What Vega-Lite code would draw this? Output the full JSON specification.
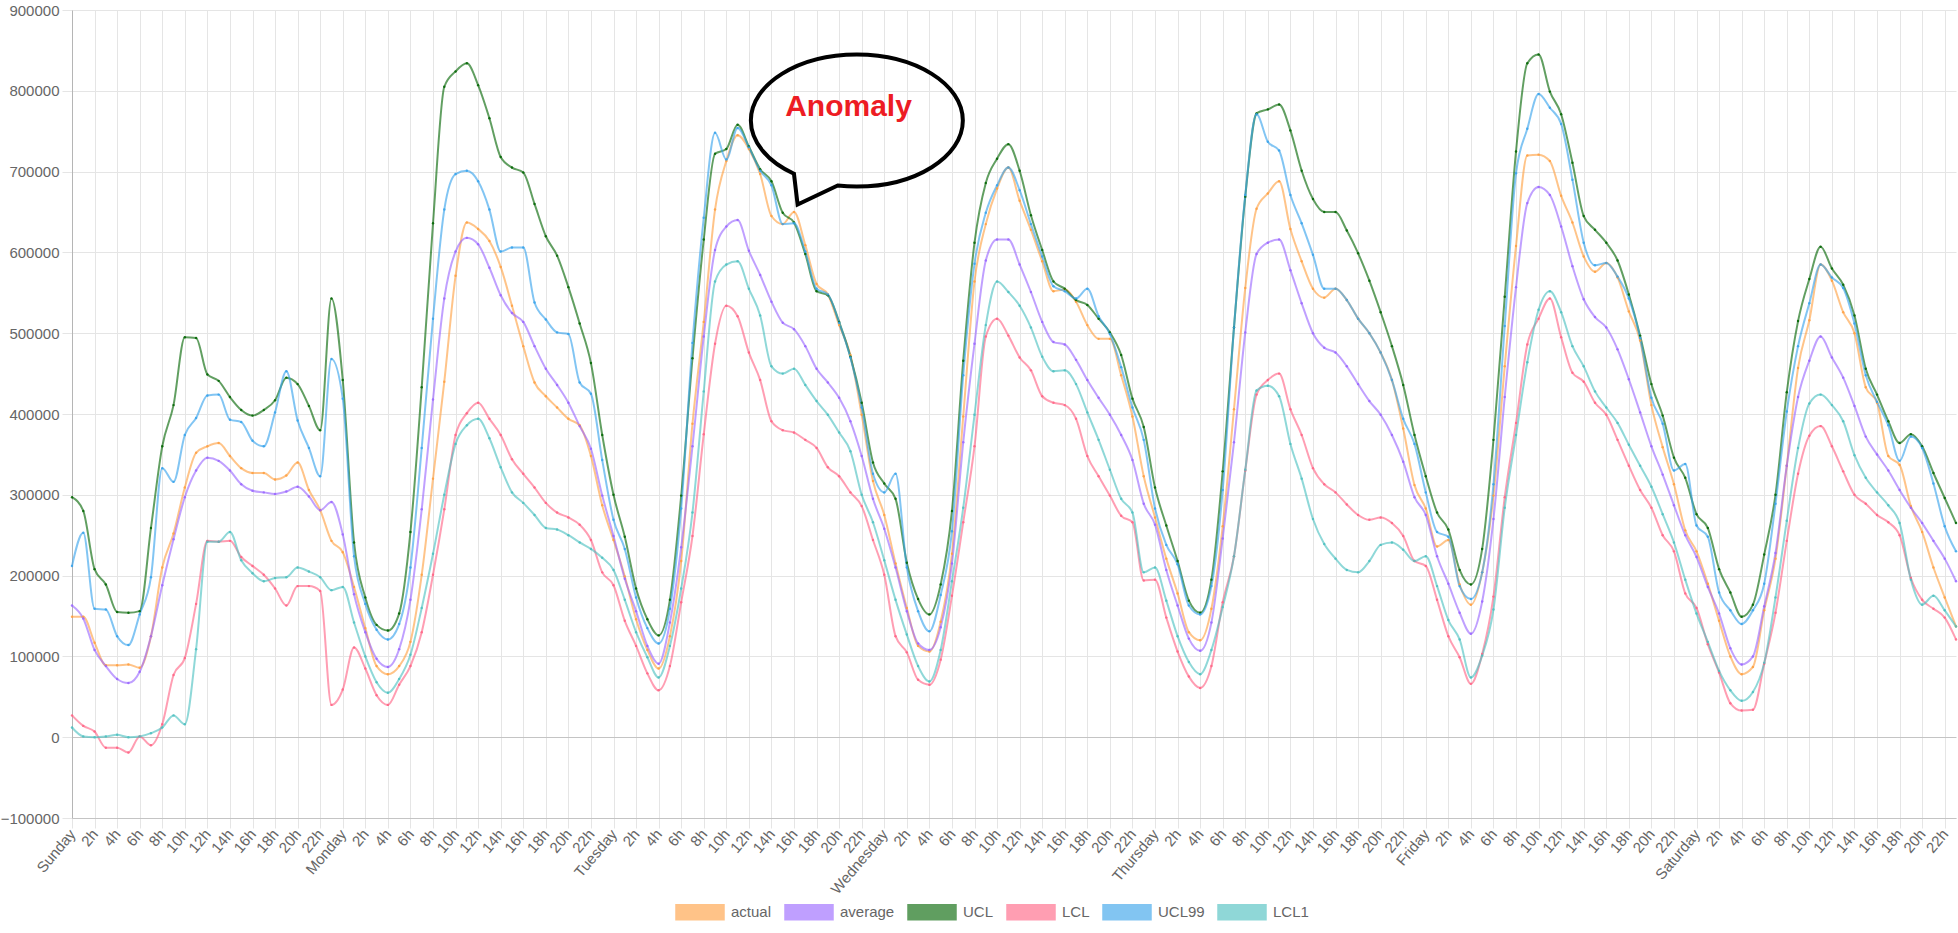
{
  "$schema": "https://vega.github.io/schema/vega-lite/v6.json",
  "width": 1884,
  "height": 808,
  "autosize": {"type": "none"},
  "padding": {"left": 72, "top": 10, "right": 2, "bottom": 115},
  "background": "white",
  "config": {
    "view": {"stroke": null},
    "font": "Liberation Sans",
    "axis": {"labelFont": "Liberation Sans", "labelColor": "#666", "labelFontSize": 15}
  },
  "data": {"values": [
    {"h":0,"actual":149000,"average":163000,"UCL":297000,"LCL":27000,"UCL99":212000,"LCL1":12000},
    {"h":1,"actual":149000,"average":147000,"UCL":280000,"LCL":14000,"UCL99":253000,"LCL1":1000},
    {"h":2,"actual":117000,"average":108000,"UCL":208000,"LCL":7000,"UCL99":159000,"LCL1":0},
    {"h":3,"actual":89000,"average":88000,"UCL":189000,"LCL":-13000,"UCL99":158000,"LCL1":1000},
    {"h":4,"actual":89000,"average":72000,"UCL":155000,"LCL":-13000,"UCL99":125000,"LCL1":3000},
    {"h":5,"actual":90000,"average":67000,"UCL":154000,"LCL":-19000,"UCL99":114000,"LCL1":0},
    {"h":6,"actual":86000,"average":81000,"UCL":156000,"LCL":1000,"UCL99":152000,"LCL1":1000},
    {"h":7,"actual":125000,"average":125000,"UCL":259000,"LCL":-10000,"UCL99":198000,"LCL1":5000},
    {"h":8,"actual":210000,"average":188000,"UCL":360000,"LCL":16000,"UCL99":333000,"LCL1":12000},
    {"h":9,"actual":252000,"average":245000,"UCL":411000,"LCL":77000,"UCL99":316000,"LCL1":27000},
    {"h":10,"actual":309000,"average":297000,"UCL":495000,"LCL":98000,"UCL99":374000,"LCL1":16000},
    {"h":11,"actual":352000,"average":330000,"UCL":494000,"LCL":165000,"UCL99":395000,"LCL1":109000},
    {"h":12,"actual":360000,"average":346000,"UCL":449000,"LCL":243000,"UCL99":423000,"LCL1":242000},
    {"h":13,"actual":364000,"average":342000,"UCL":441000,"LCL":242000,"UCL99":424000,"LCL1":242000},
    {"h":14,"actual":348000,"average":330000,"UCL":421000,"LCL":243000,"UCL99":393000,"LCL1":254000},
    {"h":15,"actual":333000,"average":313000,"UCL":405000,"LCL":223000,"UCL99":390000,"LCL1":219000},
    {"h":16,"actual":327000,"average":305000,"UCL":398000,"LCL":212000,"UCL99":367000,"LCL1":203000},
    {"h":17,"actual":327000,"average":303000,"UCL":405000,"LCL":201000,"UCL99":360000,"LCL1":193000},
    {"h":18,"actual":319000,"average":301000,"UCL":417000,"LCL":184000,"UCL99":402000,"LCL1":197000},
    {"h":19,"actual":324000,"average":304000,"UCL":445000,"LCL":163000,"UCL99":453000,"LCL1":198000},
    {"h":20,"actual":340000,"average":310000,"UCL":437000,"LCL":187000,"UCL99":392000,"LCL1":210000},
    {"h":21,"actual":306000,"average":298000,"UCL":410000,"LCL":187000,"UCL99":358000,"LCL1":205000},
    {"h":22,"actual":281000,"average":281000,"UCL":380000,"LCL":181000,"UCL99":323000,"LCL1":198000},
    {"h":23,"actual":243000,"average":291000,"UCL":543000,"LCL":40000,"UCL99":468000,"LCL1":182000},
    {"h":24,"actual":229000,"average":251000,"UCL":442000,"LCL":59000,"UCL99":419000,"LCL1":186000},
    {"h":25,"actual":186000,"average":177000,"UCL":241000,"LCL":111000,"UCL99":224000,"LCL1":142000},
    {"h":26,"actual":135000,"average":130000,"UCL":173000,"LCL":85000,"UCL99":165000,"LCL1":100000},
    {"h":27,"actual":88000,"average":97000,"UCL":139000,"LCL":52000,"UCL99":133000,"LCL1":68000},
    {"h":28,"actual":78000,"average":87000,"UCL":132000,"LCL":40000,"UCL99":121000,"LCL1":55000},
    {"h":29,"actual":88000,"average":109000,"UCL":153000,"LCL":65000,"UCL99":140000,"LCL1":72000},
    {"h":30,"actual":118000,"average":170000,"UCL":254000,"LCL":88000,"UCL99":210000,"LCL1":102000},
    {"h":31,"actual":201000,"average":282000,"UCL":433000,"LCL":130000,"UCL99":358000,"LCL1":160000},
    {"h":32,"actual":320000,"average":418000,"UCL":636000,"LCL":201000,"UCL99":518000,"LCL1":227000},
    {"h":33,"actual":440000,"average":543000,"UCL":805000,"LCL":282000,"UCL99":653000,"LCL1":300000},
    {"h":34,"actual":571000,"average":601000,"UCL":824000,"LCL":374000,"UCL99":697000,"LCL1":363000},
    {"h":35,"actual":637000,"average":618000,"UCL":834000,"LCL":401000,"UCL99":701000,"LCL1":386000},
    {"h":36,"actual":629000,"average":610000,"UCL":807000,"LCL":414000,"UCL99":688000,"LCL1":394000},
    {"h":37,"actual":614000,"average":581000,"UCL":766000,"LCL":394000,"UCL99":653000,"LCL1":370000},
    {"h":38,"actual":582000,"average":547000,"UCL":718000,"LCL":374000,"UCL99":601000,"LCL1":334000},
    {"h":39,"actual":534000,"average":525000,"UCL":705000,"LCL":344000,"UCL99":606000,"LCL1":303000},
    {"h":40,"actual":484000,"average":514000,"UCL":699000,"LCL":326000,"UCL99":606000,"LCL1":290000},
    {"h":41,"actual":439000,"average":484000,"UCL":660000,"LCL":309000,"UCL99":538000,"LCL1":275000},
    {"h":42,"actual":422000,"average":456000,"UCL":620000,"LCL":290000,"UCL99":517000,"LCL1":259000},
    {"h":43,"actual":408000,"average":436000,"UCL":596000,"LCL":278000,"UCL99":501000,"LCL1":257000},
    {"h":44,"actual":394000,"average":414000,"UCL":557000,"LCL":272000,"UCL99":499000,"LCL1":250000},
    {"h":45,"actual":386000,"average":385000,"UCL":512000,"LCL":263000,"UCL99":439000,"LCL1":241000},
    {"h":46,"actual":348000,"average":357000,"UCL":463000,"LCL":244000,"UCL99":425000,"LCL1":233000},
    {"h":47,"actual":287000,"average":299000,"UCL":374000,"LCL":204000,"UCL99":343000,"LCL1":222000},
    {"h":48,"actual":244000,"average":249000,"UCL":300000,"LCL":188000,"UCL99":269000,"LCL1":207000},
    {"h":49,"actual":199000,"average":196000,"UCL":248000,"LCL":144000,"UCL99":233000,"LCL1":170000},
    {"h":50,"actual":146000,"average":156000,"UCL":184000,"LCL":113000,"UCL99":173000,"LCL1":130000},
    {"h":51,"actual":108000,"average":113000,"UCL":146000,"LCL":79000,"UCL99":135000,"LCL1":99000},
    {"h":52,"actual":85000,"average":91000,"UCL":126000,"LCL":58000,"UCL99":116000,"LCL1":74000},
    {"h":53,"actual":125000,"average":142000,"UCL":170000,"LCL":88000,"UCL99":159000,"LCL1":113000},
    {"h":54,"actual":218000,"average":235000,"UCL":299000,"LCL":167000,"UCL99":283000,"LCL1":184000},
    {"h":55,"actual":388000,"average":360000,"UCL":469000,"LCL":249000,"UCL99":488000,"LCL1":278000},
    {"h":56,"actual":514000,"average":496000,"UCL":616000,"LCL":375000,"UCL99":643000,"LCL1":428000},
    {"h":57,"actual":653000,"average":603000,"UCL":722000,"LCL":487000,"UCL99":748000,"LCL1":564000},
    {"h":58,"actual":713000,"average":632000,"UCL":728000,"LCL":534000,"UCL99":715000,"LCL1":585000},
    {"h":59,"actual":745000,"average":640000,"UCL":758000,"LCL":521000,"UCL99":754000,"LCL1":589000},
    {"h":60,"actual":728000,"average":602000,"UCL":731000,"LCL":476000,"UCL99":730000,"LCL1":555000},
    {"h":61,"actual":697000,"average":572000,"UCL":703000,"LCL":442000,"UCL99":701000,"LCL1":522000},
    {"h":62,"actual":645000,"average":539000,"UCL":688000,"LCL":391000,"UCL99":683000,"LCL1":459000},
    {"h":63,"actual":635000,"average":513000,"UCL":649000,"LCL":380000,"UCL99":635000,"LCL1":450000},
    {"h":64,"actual":650000,"average":505000,"UCL":637000,"LCL":377000,"UCL99":636000,"LCL1":456000},
    {"h":65,"actual":609000,"average":484000,"UCL":598000,"LCL":368000,"UCL99":601000,"LCL1":436000},
    {"h":66,"actual":561000,"average":456000,"UCL":552000,"LCL":358000,"UCL99":555000,"LCL1":416000},
    {"h":67,"actual":548000,"average":439000,"UCL":547000,"LCL":334000,"UCL99":548000,"LCL1":399000},
    {"h":68,"actual":510000,"average":420000,"UCL":514000,"LCL":323000,"UCL99":513000,"LCL1":377000},
    {"h":69,"actual":473000,"average":391000,"UCL":471000,"LCL":303000,"UCL99":470000,"LCL1":354000},
    {"h":70,"actual":399000,"average":348000,"UCL":414000,"LCL":286000,"UCL99":408000,"LCL1":300000},
    {"h":71,"actual":317000,"average":295000,"UCL":340000,"LCL":244000,"UCL99":326000,"LCL1":266000},
    {"h":72,"actual":275000,"average":258000,"UCL":314000,"LCL":201000,"UCL99":303000,"LCL1":219000},
    {"h":73,"actual":215000,"average":210000,"UCL":295000,"LCL":125000,"UCL99":326000,"LCL1":170000},
    {"h":74,"actual":160000,"average":156000,"UCL":216000,"LCL":105000,"UCL99":210000,"LCL1":127000},
    {"h":75,"actual":113000,"average":116000,"UCL":171000,"LCL":71000,"UCL99":156000,"LCL1":88000},
    {"h":76,"actual":106000,"average":108000,"UCL":152000,"LCL":65000,"UCL99":131000,"LCL1":69000},
    {"h":77,"actual":143000,"average":136000,"UCL":189000,"LCL":96000,"UCL99":176000,"LCL1":108000},
    {"h":78,"actual":227000,"average":215000,"UCL":280000,"LCL":175000,"UCL99":255000,"LCL1":193000},
    {"h":79,"actual":397000,"average":365000,"UCL":466000,"LCL":266000,"UCL99":448000,"LCL1":284000},
    {"h":80,"actual":564000,"average":487000,"UCL":612000,"LCL":360000,"UCL99":586000,"LCL1":399000},
    {"h":81,"actual":635000,"average":590000,"UCL":686000,"LCL":496000,"UCL99":649000,"LCL1":510000},
    {"h":82,"actual":679000,"average":616000,"UCL":716000,"LCL":518000,"UCL99":683000,"LCL1":564000},
    {"h":83,"actual":705000,"average":616000,"UCL":734000,"LCL":497000,"UCL99":705000,"LCL1":551000},
    {"h":84,"actual":664000,"average":585000,"UCL":701000,"LCL":470000,"UCL99":677000,"LCL1":534000},
    {"h":85,"actual":628000,"average":551000,"UCL":646000,"LCL":454000,"UCL99":635000,"LCL1":507000},
    {"h":86,"actual":589000,"average":514000,"UCL":603000,"LCL":422000,"UCL99":595000,"LCL1":471000},
    {"h":87,"actual":552000,"average":489000,"UCL":564000,"LCL":414000,"UCL99":558000,"LCL1":453000},
    {"h":88,"actual":554000,"average":486000,"UCL":555000,"LCL":411000,"UCL99":552000,"LCL1":454000},
    {"h":89,"actual":539000,"average":467000,"UCL":541000,"LCL":394000,"UCL99":543000,"LCL1":437000},
    {"h":90,"actual":510000,"average":442000,"UCL":535000,"LCL":348000,"UCL99":555000,"LCL1":402000},
    {"h":91,"actual":493000,"average":420000,"UCL":518000,"LCL":323000,"UCL99":521000,"LCL1":368000},
    {"h":92,"actual":493000,"average":399000,"UCL":501000,"LCL":299000,"UCL99":499000,"LCL1":331000},
    {"h":93,"actual":448000,"average":374000,"UCL":473000,"LCL":274000,"UCL99":458000,"LCL1":295000},
    {"h":94,"actual":397000,"average":343000,"UCL":419000,"LCL":266000,"UCL99":408000,"LCL1":278000},
    {"h":95,"actual":323000,"average":289000,"UCL":384000,"LCL":194000,"UCL99":368000,"LCL1":204000},
    {"h":96,"actual":272000,"average":263000,"UCL":309000,"LCL":195000,"UCL99":283000,"LCL1":210000},
    {"h":97,"actual":221000,"average":207000,"UCL":262000,"LCL":148000,"UCL99":238000,"LCL1":169000},
    {"h":98,"actual":178000,"average":163000,"UCL":218000,"LCL":106000,"UCL99":214000,"LCL1":125000},
    {"h":99,"actual":130000,"average":122000,"UCL":169000,"LCL":75000,"UCL99":163000,"LCL1":93000},
    {"h":100,"actual":120000,"average":107000,"UCL":154000,"LCL":61000,"UCL99":152000,"LCL1":78000},
    {"h":101,"actual":159000,"average":142000,"UCL":195000,"LCL":88000,"UCL99":187000,"LCL1":108000},
    {"h":102,"actual":261000,"average":246000,"UCL":329000,"LCL":167000,"UCL99":306000,"LCL1":161000},
    {"h":103,"actual":406000,"average":365000,"UCL":507000,"LCL":224000,"UCL99":507000,"LCL1":224000},
    {"h":104,"actual":556000,"average":501000,"UCL":669000,"LCL":330000,"UCL99":671000,"LCL1":331000},
    {"h":105,"actual":654000,"average":598000,"UCL":772000,"LCL":424000,"UCL99":771000,"LCL1":429000},
    {"h":106,"actual":673000,"average":612000,"UCL":777000,"LCL":442000,"UCL99":737000,"LCL1":435000},
    {"h":107,"actual":688000,"average":616000,"UCL":783000,"LCL":450000,"UCL99":726000,"LCL1":422000},
    {"h":108,"actual":629000,"average":578000,"UCL":751000,"LCL":406000,"UCL99":671000,"LCL1":363000},
    {"h":109,"actual":589000,"average":537000,"UCL":701000,"LCL":374000,"UCL99":636000,"LCL1":320000},
    {"h":110,"actual":555000,"average":500000,"UCL":666000,"LCL":333000,"UCL99":597000,"LCL1":270000},
    {"h":111,"actual":544000,"average":482000,"UCL":650000,"LCL":313000,"UCL99":555000,"LCL1":239000},
    {"h":112,"actual":555000,"average":476000,"UCL":650000,"LCL":303000,"UCL99":555000,"LCL1":221000},
    {"h":113,"actual":541000,"average":459000,"UCL":627000,"LCL":288000,"UCL99":541000,"LCL1":207000},
    {"h":114,"actual":518000,"average":437000,"UCL":599000,"LCL":275000,"UCL99":518000,"LCL1":204000},
    {"h":115,"actual":500000,"average":416000,"UCL":565000,"LCL":269000,"UCL99":500000,"LCL1":218000},
    {"h":116,"actual":476000,"average":399000,"UCL":526000,"LCL":272000,"UCL99":476000,"LCL1":238000},
    {"h":117,"actual":442000,"average":374000,"UCL":484000,"LCL":265000,"UCL99":442000,"LCL1":241000},
    {"h":118,"actual":382000,"average":341000,"UCL":436000,"LCL":249000,"UCL99":394000,"LCL1":232000},
    {"h":119,"actual":312000,"average":297000,"UCL":374000,"LCL":218000,"UCL99":363000,"LCL1":218000},
    {"h":120,"actual":283000,"average":275000,"UCL":323000,"LCL":212000,"UCL99":303000,"LCL1":224000},
    {"h":121,"actual":236000,"average":224000,"UCL":278000,"LCL":170000,"UCL99":254000,"LCL1":187000},
    {"h":122,"actual":244000,"average":190000,"UCL":257000,"LCL":125000,"UCL99":248000,"LCL1":145000},
    {"h":123,"actual":189000,"average":154000,"UCL":207000,"LCL":99000,"UCL99":187000,"LCL1":121000},
    {"h":124,"actual":164000,"average":128000,"UCL":189000,"LCL":66000,"UCL99":171000,"LCL1":74000},
    {"h":125,"actual":204000,"average":168000,"UCL":233000,"LCL":103000,"UCL99":204000,"LCL1":101000},
    {"h":126,"actual":299000,"average":270000,"UCL":368000,"LCL":174000,"UCL99":313000,"LCL1":158000},
    {"h":127,"actual":459000,"average":421000,"UCL":545000,"LCL":297000,"UCL99":509000,"LCL1":284000},
    {"h":128,"actual":608000,"average":557000,"UCL":725000,"LCL":389000,"UCL99":698000,"LCL1":374000},
    {"h":129,"actual":720000,"average":661000,"UCL":834000,"LCL":486000,"UCL99":753000,"LCL1":464000},
    {"h":130,"actual":721000,"average":681000,"UCL":845000,"LCL":518000,"UCL99":796000,"LCL1":529000},
    {"h":131,"actual":713000,"average":671000,"UCL":799000,"LCL":543000,"UCL99":779000,"LCL1":552000},
    {"h":132,"actual":670000,"average":632000,"UCL":771000,"LCL":495000,"UCL99":759000,"LCL1":526000},
    {"h":133,"actual":637000,"average":583000,"UCL":711000,"LCL":451000,"UCL99":690000,"LCL1":484000},
    {"h":134,"actual":595000,"average":542000,"UCL":645000,"LCL":440000,"UCL99":612000,"LCL1":459000},
    {"h":135,"actual":576000,"average":520000,"UCL":628000,"LCL":414000,"UCL99":584000,"LCL1":428000},
    {"h":136,"actual":587000,"average":507000,"UCL":612000,"LCL":399000,"UCL99":587000,"LCL1":408000},
    {"h":137,"actual":569000,"average":480000,"UCL":590000,"LCL":368000,"UCL99":570000,"LCL1":389000},
    {"h":138,"actual":527000,"average":443000,"UCL":548000,"LCL":336000,"UCL99":543000,"LCL1":362000},
    {"h":139,"actual":491000,"average":402000,"UCL":497000,"LCL":306000,"UCL99":494000,"LCL1":336000},
    {"h":140,"actual":411000,"average":360000,"UCL":437000,"LCL":284000,"UCL99":420000,"LCL1":310000},
    {"h":141,"actual":359000,"average":325000,"UCL":398000,"LCL":250000,"UCL99":388000,"LCL1":276000},
    {"h":142,"actual":313000,"average":287000,"UCL":346000,"LCL":230000,"UCL99":330000,"LCL1":241000},
    {"h":143,"actual":256000,"average":250000,"UCL":321000,"LCL":178000,"UCL99":338000,"LCL1":195000},
    {"h":144,"actual":230000,"average":223000,"UCL":276000,"LCL":160000,"UCL99":262000,"LCL1":153000},
    {"h":145,"actual":190000,"average":186000,"UCL":259000,"LCL":115000,"UCL99":248000,"LCL1":118000},
    {"h":146,"actual":144000,"average":153000,"UCL":208000,"LCL":80000,"UCL99":179000,"LCL1":82000},
    {"h":147,"actual":100000,"average":110000,"UCL":179000,"LCL":42000,"UCL99":157000,"LCL1":58000},
    {"h":148,"actual":78000,"average":90000,"UCL":149000,"LCL":33000,"UCL99":140000,"LCL1":45000},
    {"h":149,"actual":87000,"average":100000,"UCL":164000,"LCL":34000,"UCL99":157000,"LCL1":56000},
    {"h":150,"actual":157000,"average":162000,"UCL":226000,"LCL":91000,"UCL99":190000,"LCL1":92000},
    {"h":151,"actual":221000,"average":228000,"UCL":300000,"LCL":154000,"UCL99":289000,"LCL1":173000},
    {"h":152,"actual":336000,"average":336000,"UCL":427000,"LCL":243000,"UCL99":403000,"LCL1":268000},
    {"h":153,"actual":457000,"average":421000,"UCL":515000,"LCL":326000,"UCL99":484000,"LCL1":358000},
    {"h":154,"actual":516000,"average":466000,"UCL":567000,"LCL":373000,"UCL99":537000,"LCL1":413000},
    {"h":155,"actual":585000,"average":496000,"UCL":607000,"LCL":385000,"UCL99":585000,"LCL1":424000},
    {"h":156,"actual":565000,"average":470000,"UCL":580000,"LCL":360000,"UCL99":569000,"LCL1":411000},
    {"h":157,"actual":526000,"average":445000,"UCL":560000,"LCL":329000,"UCL99":556000,"LCL1":391000},
    {"h":158,"actual":500000,"average":410000,"UCL":522000,"LCL":300000,"UCL99":512000,"LCL1":349000},
    {"h":159,"actual":433000,"average":372000,"UCL":456000,"LCL":289000,"UCL99":448000,"LCL1":321000},
    {"h":160,"actual":414000,"average":350000,"UCL":424000,"LCL":275000,"UCL99":415000,"LCL1":303000},
    {"h":161,"actual":348000,"average":330000,"UCL":391000,"LCL":266000,"UCL99":386000,"LCL1":287000},
    {"h":162,"actual":337000,"average":306000,"UCL":364000,"LCL":250000,"UCL99":342000,"LCL1":265000},
    {"h":163,"actual":286000,"average":284000,"UCL":375000,"LCL":197000,"UCL99":372000,"LCL1":195000},
    {"h":164,"actual":254000,"average":265000,"UCL":360000,"LCL":170000,"UCL99":358000,"LCL1":164000},
    {"h":165,"actual":210000,"average":243000,"UCL":327000,"LCL":159000,"UCL99":314000,"LCL1":175000},
    {"h":166,"actual":173000,"average":221000,"UCL":296000,"LCL":148000,"UCL99":261000,"LCL1":157000},
    {"h":167,"actual":137000,"average":193000,"UCL":265000,"LCL":121000,"UCL99":230000,"LCL1":137000}
  ]},
  "encoding": {
    "x": {
      "field": "h", "type": "quantitative",
      "scale": {"domain": [0, 167], "nice": false, "zero": false},
      "axis": {
        "title": null,
        "values": [0,2,4,6,8,10,12,14,16,18,20,22,24,26,28,30,32,34,36,38,40,42,44,46,48,50,52,54,56,58,60,62,64,66,68,70,72,74,76,78,80,82,84,86,88,90,92,94,96,98,100,102,104,106,108,110,112,114,116,118,120,122,124,126,128,130,132,134,136,138,140,142,144,146,148,150,152,154,156,158,160,162,164,166],
        "labelExpr": "datum.value % 24 == 0 ? ['Sunday','Monday','Tuesday','Wednesday','Thursday','Friday','Saturday'][floor(datum.value / 24)] : (datum.value % 24) + 'h'",
        "labelAngle": -50, "labelAlign": "right", "labelBaseline": "middle",
        "labelOverlap": false, "labelBound": false, "labelFlush": false,
        "labelPadding": 3,
        "grid": true, "gridColor": "#e5e5e5", "gridWidth": 1,
        "ticks": true, "tickColor": "#e5e5e5", "tickSize": 10,
        "domain": true, "domainColor": "#c4c4c4"
      }
    },
    "y": {
      "field": "value", "type": "quantitative",
      "scale": {"domain": [-100000, 900000], "nice": false, "zero": false},
      "axis": {
        "title": null,
        "values": [-100000, 0, 100000, 200000, 300000, 400000, 500000, 600000, 700000, 800000, 900000],
        "format": "d",
        "labelPadding": 3,
        "grid": true,
        "gridColor": {"condition": {"test": "datum.value === 0", "value": "#c4c4c4"}, "value": "#e5e5e5"},
        "ticks": true, "tickColor": "#e5e5e5", "tickSize": 10,
        "domain": true, "domainColor": "#b5b5b5"
      }
    }
  },
  "layer": [
    {
      "transform": [{"fold": ["actual", "average", "UCL", "LCL", "UCL99", "LCL1"], "as": ["series", "value"]}],
      "mark": {"type": "line", "interpolate": "monotone", "strokeWidth": 2, "opacity": 0.62},
      "encoding": {
        "color": {
          "field": "series", "type": "nominal",
          "scale": {
            "domain": ["actual", "average", "UCL", "LCL", "UCL99", "LCL1"],
            "range": ["rgb(255,159,64)", "rgb(153,102,255)", "rgb(0,100,0)", "rgb(255,99,132)", "rgb(54,162,235)", "rgb(75,192,192)"]
          },
          "legend": {
            "title": null,
            "orient": "none",
            "direction": "horizontal",
            "legendX": 603,
            "legendY": 877,
            "symbolType": "M-1,-0.3125L1,-0.3125L1,0.3125L-1,0.3125Z",
            "symbolSize": 2304,
            "symbolStrokeWidth": 1.5,
            "labelFontSize": 15,
            "labelColor": "#666",
            "labelFont": "Liberation Sans",
            "labelOffset": 6,
            "columnPadding": 10,
            "encode": {
              "symbols": {
                "update": {
                  "fill": {"scale": "color", "field": "value"},
                  "fillOpacity": {"value": 0.5},
                  "stroke": {"scale": "color", "field": "value"},
                  "strokeOpacity": {"value": 0.6},
                  "opacity": {"value": 1}
                }
              }
            }
          }
        }
      }
    },
    {
      "transform": [{"fold": ["actual", "average", "UCL", "LCL", "UCL99", "LCL1"], "as": ["series", "value"]}],
      "mark": {"type": "point", "filled": true, "size": 6, "opacity": 0.85},
      "encoding": {
        "color": {"field": "series", "type": "nominal", "legend": null}
      }
    },
    {
      "data": {"values": [{"h": 69.57, "value": 763200}]},
      "mark": {
        "type": "point",
        "shape": "M-0.5934,0.5015C-0.849,0.384,-1,0.198,-1,0C-1,-0.344,-0.552,-0.623,0,-0.623C0.552,-0.623,1,-0.344,1,0C1,0.344,0.552,0.623,0,0.623C-0.0606,0.623,-0.121,0.6196,-0.1805,0.6128L-0.559,0.792Z",
        "size": 44944,
        "filled": false,
        "stroke": "black",
        "strokeWidth": 4,
        "opacity": 1
      },
      "encoding": {}
    },
    {
      "data": {"values": [{"h": 68.83, "value": 768600, "label": "Anomaly"}]},
      "mark": {
        "type": "text",
        "font": "Liberation Sans",
        "fontWeight": "bold",
        "fontSize": 30,
        "color": "#ed1c24",
        "align": "center",
        "baseline": "alphabetic"
      },
      "encoding": {"text": {"field": "label"}}
    }
  ]
}
